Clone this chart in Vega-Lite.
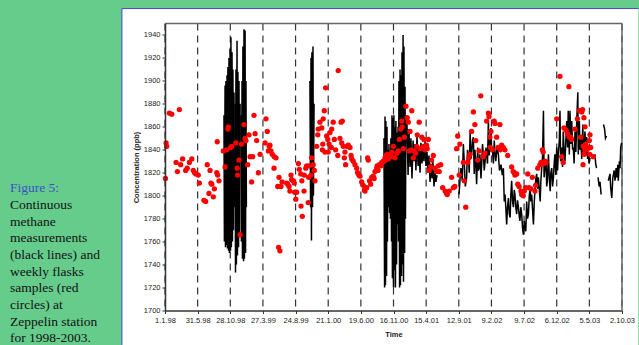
{
  "$schema": "https://vega.github.io/schema/vega-lite/v6.json",
  "background": "#66CC8C",
  "padding": {"left": 10, "top": 7.5, "right": 0, "bottom": 0},
  "bounds": "flush",
  "spacing": 45,
  "config": {
    "font": "Liberation Sans",
    "view": {"stroke": null},
    "axis": {"grid": false, "labelOverlap": false, "domainColor": "#333333", "domainWidth": 1.5, "tickColor": "#333333", "tickSize": 3, "tickWidth": 1, "labelColor": "#222222", "labelFontSize": 7.5, "titleFontSize": 7.5, "titleFontWeight": "bold", "titleColor": "#222222", "labelFont": "Liberation Sans", "titleFont": "Liberation Sans"}
  },
  "datasets": {
    "caption": [
      {"line": 0, "text": "Figure 5:", "kind": "label"},
      {"line": 1, "text": "Continuous", "kind": "body"},
      {"line": 2, "text": "methane", "kind": "body"},
      {"line": 3, "text": "measurements", "kind": "body"},
      {"line": 4, "text": "(black lines) and", "kind": "body"},
      {"line": 5, "text": "weekly flasks", "kind": "body"},
      {"line": 6, "text": "samples (red", "kind": "body"},
      {"line": 7, "text": "circles) at", "kind": "body"},
      {"line": 8, "text": "Zeppelin station", "kind": "body"},
      {"line": 9, "text": "for 1998-2003.", "kind": "body"}
    ],
    "gridDates": [
      {"date": "1998-01-01"}, {"date": "1998-05-31"}, {"date": "1998-10-28"}, {"date": "1999-03-27"}, {"date": "1999-08-24"},
      {"date": "2000-01-21"}, {"date": "2000-06-19"}, {"date": "2000-11-16"}, {"date": "2001-04-15"}, {"date": "2001-09-12"},
      {"date": "2002-02-09"}, {"date": "2002-07-09"}, {"date": "2002-12-06"}, {"date": "2003-05-05"}, {"date": "2003-10-02"}
    ],
    "continuous": [
      {"date": "1998-09-29", "ch4": 1870, "seg": "A"}, {"date": "1998-10-01", "ch4": 1760, "seg": "A"}, {"date": "1998-10-04", "ch4": 1896, "seg": "A"}, {"date": "1998-10-06", "ch4": 1755, "seg": "A"},
      {"date": "1998-10-08", "ch4": 1900, "seg": "A"}, {"date": "1998-10-11", "ch4": 1757, "seg": "A"}, {"date": "1998-10-13", "ch4": 1905, "seg": "A"}, {"date": "1998-10-15", "ch4": 1754, "seg": "A"},
      {"date": "1998-10-17", "ch4": 1912, "seg": "A"}, {"date": "1998-10-20", "ch4": 1752, "seg": "A"}, {"date": "1998-10-22", "ch4": 1920, "seg": "A"}, {"date": "1998-10-24", "ch4": 1750, "seg": "A"},
      {"date": "1998-10-27", "ch4": 1928, "seg": "A"}, {"date": "1998-10-29", "ch4": 1752, "seg": "A"}, {"date": "1998-10-31", "ch4": 1938, "seg": "A"}, {"date": "1998-11-02", "ch4": 1755, "seg": "A"},
      {"date": "1998-11-05", "ch4": 1925, "seg": "A"}, {"date": "1998-11-07", "ch4": 1760, "seg": "A"}, {"date": "1998-11-09", "ch4": 1910, "seg": "A"}, {"date": "1998-11-12", "ch4": 1770, "seg": "A"},
      {"date": "1998-11-14", "ch4": 1890, "seg": "A"}, {"date": "1998-11-16", "ch4": 1790, "seg": "A"},
      {"date": "1998-11-19", "ch4": 1880, "seg": "A2"}, {"date": "1998-11-21", "ch4": 1733, "seg": "A2"}, {"date": "1998-11-23", "ch4": 1910, "seg": "A2"}, {"date": "1998-11-25", "ch4": 1740, "seg": "A2"},
      {"date": "1998-11-28", "ch4": 1935, "seg": "A2"}, {"date": "1998-11-30", "ch4": 1748, "seg": "A2"}, {"date": "1998-12-02", "ch4": 1908, "seg": "A2"}, {"date": "1998-12-05", "ch4": 1755, "seg": "A2"},
      {"date": "1998-12-07", "ch4": 1900, "seg": "A2"}, {"date": "1998-12-09", "ch4": 1765, "seg": "A2"}, {"date": "1998-12-12", "ch4": 1880, "seg": "A2"},
      {"date": "1998-12-16", "ch4": 1870, "seg": "A3"}, {"date": "1998-12-18", "ch4": 1760, "seg": "A3"}, {"date": "1998-12-21", "ch4": 1900, "seg": "A3"}, {"date": "1998-12-23", "ch4": 1745, "seg": "A3"},
      {"date": "1998-12-25", "ch4": 1930, "seg": "A3"}, {"date": "1998-12-28", "ch4": 1743, "seg": "A3"}, {"date": "1998-12-30", "ch4": 1945, "seg": "A3"}, {"date": "1999-01-01", "ch4": 1745, "seg": "A3"},
      {"date": "1999-01-04", "ch4": 1944, "seg": "A3"}, {"date": "1999-01-06", "ch4": 1750, "seg": "A3"}, {"date": "1999-01-08", "ch4": 1900, "seg": "A3"}, {"date": "1999-01-10", "ch4": 1790, "seg": "A3"},
      {"date": "1999-10-29", "ch4": 1900, "seg": "B"}, {"date": "1999-11-01", "ch4": 1790, "seg": "B"}, {"date": "1999-11-03", "ch4": 1920, "seg": "B"}, {"date": "1999-11-05", "ch4": 1761, "seg": "B"},
      {"date": "1999-11-07", "ch4": 1925, "seg": "B"}, {"date": "1999-11-10", "ch4": 1790, "seg": "B"}, {"date": "1999-11-12", "ch4": 1930, "seg": "B"}, {"date": "1999-11-14", "ch4": 1800, "seg": "B"},
      {"date": "1999-11-17", "ch4": 1880, "seg": "B"},
      {"date": "2000-10-03", "ch4": 1850, "seg": "C1"}, {"date": "2000-10-06", "ch4": 1720, "seg": "C1"}, {"date": "2000-10-08", "ch4": 1869, "seg": "C1"}, {"date": "2000-10-10", "ch4": 1722, "seg": "C1"},
      {"date": "2000-10-12", "ch4": 1865, "seg": "C1"}, {"date": "2000-10-15", "ch4": 1730, "seg": "C1"}, {"date": "2000-10-17", "ch4": 1860, "seg": "C1"}, {"date": "2000-10-19", "ch4": 1760, "seg": "C1"},
      {"date": "2000-10-22", "ch4": 1840, "seg": "C1"}, {"date": "2000-10-24", "ch4": 1790, "seg": "C1"}, {"date": "2000-10-26", "ch4": 1845, "seg": "C1"}, {"date": "2000-10-29", "ch4": 1785, "seg": "C1"},
      {"date": "2000-10-31", "ch4": 1840, "seg": "C1"}, {"date": "2000-11-02", "ch4": 1780, "seg": "C1"}, {"date": "2000-11-04", "ch4": 1850, "seg": "C1"}, {"date": "2000-11-07", "ch4": 1760, "seg": "C1"},
      {"date": "2000-11-09", "ch4": 1870, "seg": "C1"}, {"date": "2000-11-11", "ch4": 1728, "seg": "C1"}, {"date": "2000-11-14", "ch4": 1868, "seg": "C1"}, {"date": "2000-11-16", "ch4": 1720, "seg": "C1"},
      {"date": "2000-11-18", "ch4": 1870, "seg": "C1"}, {"date": "2000-11-21", "ch4": 1735, "seg": "C1"}, {"date": "2000-11-23", "ch4": 1860, "seg": "C1"}, {"date": "2000-11-25", "ch4": 1720, "seg": "C1"},
      {"date": "2000-11-27", "ch4": 1865, "seg": "C1"}, {"date": "2000-11-30", "ch4": 1740, "seg": "C1"}, {"date": "2000-12-02", "ch4": 1855, "seg": "C1"}, {"date": "2000-12-04", "ch4": 1775, "seg": "C1"},
      {"date": "2000-12-07", "ch4": 1860, "seg": "C1"}, {"date": "2000-12-09", "ch4": 1760, "seg": "C1"}, {"date": "2000-12-11", "ch4": 1900, "seg": "C1"}, {"date": "2000-12-14", "ch4": 1720, "seg": "C1"},
      {"date": "2000-12-16", "ch4": 1910, "seg": "C1"}, {"date": "2000-12-18", "ch4": 1722, "seg": "C1"}, {"date": "2000-12-20", "ch4": 1905, "seg": "C1"}, {"date": "2000-12-23", "ch4": 1730, "seg": "C1"},
      {"date": "2000-12-25", "ch4": 1925, "seg": "C1"}, {"date": "2000-12-27", "ch4": 1740, "seg": "C1"}, {"date": "2000-12-30", "ch4": 1940, "seg": "C1"}, {"date": "2001-01-01", "ch4": 1725, "seg": "C1"},
      {"date": "2001-01-03", "ch4": 1930, "seg": "C1"}, {"date": "2001-01-06", "ch4": 1750, "seg": "C1"}, {"date": "2001-01-08", "ch4": 1895, "seg": "C1"}, {"date": "2001-01-10", "ch4": 1780, "seg": "C1"},
      {"date": "2001-01-12", "ch4": 1870, "seg": "C1"}, {"date": "2001-01-17", "ch4": 1862, "seg": "C1"}, {"date": "2001-01-22", "ch4": 1818, "seg": "C1"}, {"date": "2001-01-26", "ch4": 1858, "seg": "C1"},
      {"date": "2001-01-31", "ch4": 1825, "seg": "C1"}, {"date": "2001-02-04", "ch4": 1850, "seg": "C1"}, {"date": "2001-02-09", "ch4": 1815, "seg": "C1"}, {"date": "2001-02-14", "ch4": 1848, "seg": "C1"},
      {"date": "2001-02-18", "ch4": 1830, "seg": "C1"}, {"date": "2001-02-23", "ch4": 1845, "seg": "C1"}, {"date": "2001-02-27", "ch4": 1822, "seg": "C1"}, {"date": "2001-03-04", "ch4": 1852, "seg": "C1"},
      {"date": "2001-03-09", "ch4": 1826, "seg": "C1"}, {"date": "2001-03-13", "ch4": 1840, "seg": "C1"}, {"date": "2001-03-18", "ch4": 1820, "seg": "C1"}, {"date": "2001-03-22", "ch4": 1846, "seg": "C1"},
      {"date": "2001-03-27", "ch4": 1828, "seg": "C1"}, {"date": "2001-04-01", "ch4": 1842, "seg": "C1"}, {"date": "2001-04-05", "ch4": 1830, "seg": "C1"}, {"date": "2001-04-10", "ch4": 1848, "seg": "C1"},
      {"date": "2001-04-14", "ch4": 1826, "seg": "C1"}, {"date": "2001-04-19", "ch4": 1838, "seg": "C1"}, {"date": "2001-04-23", "ch4": 1820, "seg": "C1"}, {"date": "2001-04-28", "ch4": 1835, "seg": "C1"},
      {"date": "2001-05-03", "ch4": 1812, "seg": "C1"}, {"date": "2001-05-07", "ch4": 1828, "seg": "C1"}, {"date": "2001-05-12", "ch4": 1815, "seg": "C1"}, {"date": "2001-05-16", "ch4": 1830, "seg": "C1"},
      {"date": "2001-05-21", "ch4": 1808, "seg": "C1"}, {"date": "2001-05-26", "ch4": 1820, "seg": "C1"}, {"date": "2001-05-30", "ch4": 1812, "seg": "C1"}, {"date": "2001-06-04", "ch4": 1818, "seg": "C1"},
      {"date": "2001-09-13", "ch4": 1801, "seg": "C2"}, {"date": "2001-09-18", "ch4": 1815, "seg": "C2"}, {"date": "2001-09-22", "ch4": 1824, "seg": "C2"}, {"date": "2001-09-28", "ch4": 1813, "seg": "C2"},
      {"date": "2001-10-03", "ch4": 1845, "seg": "C2"}, {"date": "2001-10-07", "ch4": 1830, "seg": "C2"}, {"date": "2001-10-12", "ch4": 1808, "seg": "C2"}, {"date": "2001-10-18", "ch4": 1816, "seg": "C2"},
      {"date": "2001-10-22", "ch4": 1840, "seg": "C2"}, {"date": "2001-10-26", "ch4": 1836, "seg": "C2"}, {"date": "2001-10-30", "ch4": 1820, "seg": "C2"}, {"date": "2001-11-03", "ch4": 1856, "seg": "C2"},
      {"date": "2001-11-07", "ch4": 1832, "seg": "C2"}, {"date": "2001-11-10", "ch4": 1836, "seg": "C2"}, {"date": "2001-11-14", "ch4": 1848, "seg": "C2"}, {"date": "2001-11-18", "ch4": 1851, "seg": "C2"},
      {"date": "2001-11-22", "ch4": 1819, "seg": "C2"}, {"date": "2001-11-25", "ch4": 1840, "seg": "C2"}, {"date": "2001-11-29", "ch4": 1830, "seg": "C2"}, {"date": "2001-12-03", "ch4": 1810, "seg": "C2"},
      {"date": "2001-12-08", "ch4": 1842, "seg": "C2"}, {"date": "2001-12-11", "ch4": 1822, "seg": "C2"}, {"date": "2001-12-14", "ch4": 1824, "seg": "C2"}, {"date": "2001-12-18", "ch4": 1836, "seg": "C2"},
      {"date": "2001-12-23", "ch4": 1815, "seg": "C2"}, {"date": "2001-12-26", "ch4": 1827, "seg": "C2"}, {"date": "2001-12-30", "ch4": 1845, "seg": "C2"}, {"date": "2002-01-03", "ch4": 1836, "seg": "C2"},
      {"date": "2002-01-07", "ch4": 1822, "seg": "C2"}, {"date": "2002-01-11", "ch4": 1830, "seg": "C2"}, {"date": "2002-01-15", "ch4": 1842, "seg": "C2"}, {"date": "2002-01-18", "ch4": 1836, "seg": "C2"},
      {"date": "2002-01-22", "ch4": 1828, "seg": "C2"}, {"date": "2002-01-26", "ch4": 1865, "seg": "C2"}, {"date": "2002-01-30", "ch4": 1835, "seg": "C2"}, {"date": "2002-02-04", "ch4": 1850, "seg": "C2"},
      {"date": "2002-02-07", "ch4": 1859, "seg": "C2"}, {"date": "2002-02-10", "ch4": 1838, "seg": "C2"}, {"date": "2002-02-13", "ch4": 1842, "seg": "C2"}, {"date": "2002-02-18", "ch4": 1828, "seg": "C2"},
      {"date": "2002-02-22", "ch4": 1848, "seg": "C2"}, {"date": "2002-02-26", "ch4": 1836, "seg": "C2"}, {"date": "2002-03-01", "ch4": 1830, "seg": "C2"}, {"date": "2002-03-07", "ch4": 1842, "seg": "C2"},
      {"date": "2002-03-13", "ch4": 1836, "seg": "C2"}, {"date": "2002-03-18", "ch4": 1822, "seg": "C2"}, {"date": "2002-03-25", "ch4": 1827, "seg": "C2"}, {"date": "2002-03-31", "ch4": 1818, "seg": "C2"},
      {"date": "2002-04-05", "ch4": 1824, "seg": "C2"}, {"date": "2002-04-09", "ch4": 1795, "seg": "C2"}, {"date": "2002-04-13", "ch4": 1801, "seg": "C2"}, {"date": "2002-04-16", "ch4": 1790, "seg": "C2"},
      {"date": "2002-04-20", "ch4": 1775, "seg": "C2"}, {"date": "2002-04-24", "ch4": 1790, "seg": "C2"}, {"date": "2002-04-28", "ch4": 1798, "seg": "C2"}, {"date": "2002-05-02", "ch4": 1784, "seg": "C2"},
      {"date": "2002-05-06", "ch4": 1781, "seg": "C2"}, {"date": "2002-05-09", "ch4": 1800, "seg": "C2"}, {"date": "2002-05-13", "ch4": 1813, "seg": "C2"}, {"date": "2002-05-17", "ch4": 1795, "seg": "C2"},
      {"date": "2002-05-21", "ch4": 1790, "seg": "C2"}, {"date": "2002-05-25", "ch4": 1805, "seg": "C2"}, {"date": "2002-05-28", "ch4": 1801, "seg": "C2"}, {"date": "2002-06-01", "ch4": 1790, "seg": "C2"},
      {"date": "2002-06-05", "ch4": 1784, "seg": "C2"}, {"date": "2002-06-09", "ch4": 1796, "seg": "C2"}, {"date": "2002-06-13", "ch4": 1790, "seg": "C2"}, {"date": "2002-06-17", "ch4": 1782, "seg": "C2"},
      {"date": "2002-06-20", "ch4": 1778, "seg": "C2"}, {"date": "2002-06-24", "ch4": 1790, "seg": "C2"}, {"date": "2002-06-28", "ch4": 1784, "seg": "C2"}, {"date": "2002-07-02", "ch4": 1772, "seg": "C2"},
      {"date": "2002-07-06", "ch4": 1766, "seg": "C2"}, {"date": "2002-07-10", "ch4": 1778, "seg": "C2"}, {"date": "2002-07-14", "ch4": 1772, "seg": "C2"}, {"date": "2002-07-17", "ch4": 1769, "seg": "C2"},
      {"date": "2002-07-21", "ch4": 1795, "seg": "C2"}, {"date": "2002-07-25", "ch4": 1780, "seg": "C2"}, {"date": "2002-07-29", "ch4": 1784, "seg": "C2"}, {"date": "2002-08-02", "ch4": 1800, "seg": "C2"},
      {"date": "2002-08-06", "ch4": 1807, "seg": "C2"}, {"date": "2002-08-09", "ch4": 1795, "seg": "C2"}, {"date": "2002-08-13", "ch4": 1801, "seg": "C2"}, {"date": "2002-08-17", "ch4": 1788, "seg": "C2"},
      {"date": "2002-08-21", "ch4": 1775, "seg": "C2"}, {"date": "2002-08-25", "ch4": 1795, "seg": "C2"}, {"date": "2002-08-29", "ch4": 1807, "seg": "C2"}, {"date": "2002-09-01", "ch4": 1815, "seg": "C2"},
      {"date": "2002-09-05", "ch4": 1819, "seg": "C2"}, {"date": "2002-09-09", "ch4": 1806, "seg": "C2"}, {"date": "2002-09-13", "ch4": 1816, "seg": "C2"}, {"date": "2002-09-17", "ch4": 1805, "seg": "C2"},
      {"date": "2002-09-21", "ch4": 1795, "seg": "C2"}, {"date": "2002-09-24", "ch4": 1812, "seg": "C2"}, {"date": "2002-09-28", "ch4": 1824, "seg": "C2"}, {"date": "2002-10-02", "ch4": 1835, "seg": "C2"},
      {"date": "2002-10-06", "ch4": 1874, "seg": "C2"}, {"date": "2002-10-09", "ch4": 1816, "seg": "C2"}, {"date": "2002-10-14", "ch4": 1826, "seg": "C2"}, {"date": "2002-10-18", "ch4": 1830, "seg": "C2"},
      {"date": "2002-10-21", "ch4": 1808, "seg": "C2"}, {"date": "2002-10-24", "ch4": 1813, "seg": "C2"}, {"date": "2002-10-29", "ch4": 1836, "seg": "C2"}, {"date": "2002-11-02", "ch4": 1815, "seg": "C2"},
      {"date": "2002-11-06", "ch4": 1804, "seg": "C2"}, {"date": "2002-11-09", "ch4": 1820, "seg": "C2"}, {"date": "2002-11-13", "ch4": 1824, "seg": "C2"}, {"date": "2002-11-17", "ch4": 1808, "seg": "C2"},
      {"date": "2002-11-21", "ch4": 1816, "seg": "C2"}, {"date": "2002-11-25", "ch4": 1830, "seg": "C2"}, {"date": "2002-11-28", "ch4": 1836, "seg": "C2"}, {"date": "2002-12-02", "ch4": 1818, "seg": "C2"},
      {"date": "2002-12-06", "ch4": 1842, "seg": "C2"}, {"date": "2002-12-10", "ch4": 1822, "seg": "C2"}, {"date": "2002-12-13", "ch4": 1836, "seg": "C2"}, {"date": "2002-12-18", "ch4": 1848, "seg": "C2"},
      {"date": "2002-12-21", "ch4": 1874, "seg": "C2"}, {"date": "2002-12-24", "ch4": 1830, "seg": "C2"}, {"date": "2002-12-29", "ch4": 1842, "seg": "C2"}, {"date": "2003-01-02", "ch4": 1825, "seg": "C2"},
      {"date": "2003-01-05", "ch4": 1856, "seg": "C2"}, {"date": "2003-01-10", "ch4": 1835, "seg": "C2"}, {"date": "2003-01-13", "ch4": 1830, "seg": "C2"}, {"date": "2003-01-17", "ch4": 1848, "seg": "C2"},
      {"date": "2003-01-21", "ch4": 1865, "seg": "C2"}, {"date": "2003-01-25", "ch4": 1842, "seg": "C2"}, {"date": "2003-01-28", "ch4": 1874, "seg": "C2"}, {"date": "2003-02-02", "ch4": 1836, "seg": "C2"},
      {"date": "2003-02-05", "ch4": 1874, "seg": "C2"}, {"date": "2003-02-09", "ch4": 1845, "seg": "C2"}, {"date": "2003-02-13", "ch4": 1865, "seg": "C2"}, {"date": "2003-02-17", "ch4": 1840, "seg": "C2"},
      {"date": "2003-02-20", "ch4": 1842, "seg": "C2"}, {"date": "2003-02-24", "ch4": 1828, "seg": "C2"}, {"date": "2003-02-28", "ch4": 1856, "seg": "C2"}, {"date": "2003-03-04", "ch4": 1838, "seg": "C2"},
      {"date": "2003-03-08", "ch4": 1865, "seg": "C2"}, {"date": "2003-03-13", "ch4": 1890, "seg": "C2"}, {"date": "2003-03-15", "ch4": 1836, "seg": "C2"}, {"date": "2003-03-20", "ch4": 1865, "seg": "C2"},
      {"date": "2003-03-23", "ch4": 1840, "seg": "C2"}, {"date": "2003-03-26", "ch4": 1851, "seg": "C2"}, {"date": "2003-03-31", "ch4": 1832, "seg": "C2"}, {"date": "2003-04-05", "ch4": 1862, "seg": "C2"},
      {"date": "2003-04-07", "ch4": 1838, "seg": "C2"}, {"date": "2003-04-10", "ch4": 1842, "seg": "C2"}, {"date": "2003-04-15", "ch4": 1856, "seg": "C2"}, {"date": "2003-04-19", "ch4": 1835, "seg": "C2"},
      {"date": "2003-04-23", "ch4": 1851, "seg": "C2"}, {"date": "2003-04-27", "ch4": 1832, "seg": "C2"}, {"date": "2003-04-30", "ch4": 1836, "seg": "C2"}, {"date": "2003-05-04", "ch4": 1828, "seg": "C2"},
      {"date": "2003-05-08", "ch4": 1833, "seg": "C2"},
      {"date": "2003-05-31", "ch4": 1836, "seg": "D1"}, {"date": "2003-06-03", "ch4": 1828, "seg": "D1"}, {"date": "2003-06-07", "ch4": 1824, "seg": "D1"},
      {"date": "2003-06-14", "ch4": 1816, "seg": "D2"}, {"date": "2003-06-19", "ch4": 1808, "seg": "D2"}, {"date": "2003-06-23", "ch4": 1812, "seg": "D2"}, {"date": "2003-06-28", "ch4": 1801, "seg": "D2"},
      {"date": "2003-07-09", "ch4": 1862, "seg": "D3"}, {"date": "2003-07-14", "ch4": 1858, "seg": "D3"}, {"date": "2003-07-18", "ch4": 1850, "seg": "D3"}, {"date": "2003-07-23", "ch4": 1852, "seg": "D3"},
      {"date": "2003-07-31", "ch4": 1813, "seg": "D4"}, {"date": "2003-08-08", "ch4": 1819, "seg": "D4"}, {"date": "2003-08-11", "ch4": 1807, "seg": "D4"}, {"date": "2003-08-16", "ch4": 1798, "seg": "D4"},
      {"date": "2003-08-21", "ch4": 1816, "seg": "D4"}, {"date": "2003-08-27", "ch4": 1822, "seg": "D4"}, {"date": "2003-08-31", "ch4": 1813, "seg": "D4"}, {"date": "2003-09-05", "ch4": 1824, "seg": "D4"},
      {"date": "2003-09-08", "ch4": 1816, "seg": "D4"}, {"date": "2003-09-13", "ch4": 1827, "seg": "D4"}, {"date": "2003-09-15", "ch4": 1813, "seg": "D4"}, {"date": "2003-09-20", "ch4": 1830, "seg": "D4"},
      {"date": "2003-09-23", "ch4": 1824, "seg": "D4"}, {"date": "2003-09-26", "ch4": 1842, "seg": "D4"}, {"date": "2003-09-30", "ch4": 1846, "seg": "D4"}
    ],
    "flasks": [
      {"date": "1998-01-03", "ch4": 1815}, {"date": "1998-01-06", "ch4": 1846}, {"date": "1998-01-09", "ch4": 1843}, {"date": "1998-01-21", "ch4": 1872}, {"date": "1998-02-01", "ch4": 1871},
      {"date": "1998-02-21", "ch4": 1829}, {"date": "1998-02-27", "ch4": 1821}, {"date": "1998-03-08", "ch4": 1875}, {"date": "1998-03-14", "ch4": 1827}, {"date": "1998-03-23", "ch4": 1832},
      {"date": "1998-04-06", "ch4": 1822}, {"date": "1998-04-13", "ch4": 1824}, {"date": "1998-04-23", "ch4": 1829}, {"date": "1998-05-04", "ch4": 1832}, {"date": "1998-05-11", "ch4": 1822},
      {"date": "1998-05-17", "ch4": 1820}, {"date": "1998-05-23", "ch4": 1819}, {"date": "1998-06-03", "ch4": 1818}, {"date": "1998-06-08", "ch4": 1811}, {"date": "1998-06-29", "ch4": 1796},
      {"date": "1998-07-07", "ch4": 1795}, {"date": "1998-07-14", "ch4": 1827}, {"date": "1998-07-22", "ch4": 1802}, {"date": "1998-07-27", "ch4": 1822}, {"date": "1998-07-31", "ch4": 1811},
      {"date": "1998-08-04", "ch4": 1810}, {"date": "1998-08-11", "ch4": 1799}, {"date": "1998-08-16", "ch4": 1806}, {"date": "1998-08-27", "ch4": 1820}, {"date": "1998-08-29", "ch4": 1847},
      {"date": "1998-08-31", "ch4": 1818}, {"date": "1998-09-06", "ch4": 1813}, {"date": "1998-09-26", "ch4": 1839}, {"date": "1998-10-04", "ch4": 1825}, {"date": "1998-10-12", "ch4": 1840},
      {"date": "1998-10-17", "ch4": 1858}, {"date": "1998-10-19", "ch4": 1860}, {"date": "1998-10-30", "ch4": 1842}, {"date": "1998-11-03", "ch4": 1843}, {"date": "1998-11-23", "ch4": 1846},
      {"date": "1998-11-29", "ch4": 1824}, {"date": "1998-12-01", "ch4": 1818}, {"date": "1998-12-07", "ch4": 1831}, {"date": "1998-12-12", "ch4": 1766}, {"date": "1998-12-19", "ch4": 1845},
      {"date": "1998-12-30", "ch4": 1862}, {"date": "1999-01-04", "ch4": 1850}, {"date": "1999-01-08", "ch4": 1848}, {"date": "1999-01-16", "ch4": 1827}, {"date": "1999-01-22", "ch4": 1853},
      {"date": "1999-01-27", "ch4": 1834}, {"date": "1999-02-03", "ch4": 1812}, {"date": "1999-02-08", "ch4": 1834}, {"date": "1999-02-14", "ch4": 1870}, {"date": "1999-02-19", "ch4": 1854},
      {"date": "1999-02-26", "ch4": 1848}, {"date": "1999-03-06", "ch4": 1820}, {"date": "1999-03-14", "ch4": 1836}, {"date": "1999-04-06", "ch4": 1846}, {"date": "1999-04-10", "ch4": 1867},
      {"date": "1999-04-16", "ch4": 1856}, {"date": "1999-04-21", "ch4": 1839}, {"date": "1999-04-25", "ch4": 1843}, {"date": "1999-04-28", "ch4": 1844}, {"date": "1999-05-03", "ch4": 1839},
      {"date": "1999-05-09", "ch4": 1836}, {"date": "1999-05-17", "ch4": 1824}, {"date": "1999-05-18", "ch4": 1834}, {"date": "1999-05-26", "ch4": 1833}, {"date": "1999-06-03", "ch4": 1808},
      {"date": "1999-06-07", "ch4": 1755}, {"date": "1999-06-09", "ch4": 1816}, {"date": "1999-06-13", "ch4": 1752}, {"date": "1999-06-18", "ch4": 1808}, {"date": "1999-06-23", "ch4": 1812},
      {"date": "1999-07-14", "ch4": 1811}, {"date": "1999-07-19", "ch4": 1810}, {"date": "1999-07-25", "ch4": 1808}, {"date": "1999-07-29", "ch4": 1804}, {"date": "1999-08-03", "ch4": 1818},
      {"date": "1999-08-06", "ch4": 1814}, {"date": "1999-08-14", "ch4": 1813}, {"date": "1999-08-18", "ch4": 1811}, {"date": "1999-08-20", "ch4": 1803}, {"date": "1999-08-25", "ch4": 1797},
      {"date": "1999-08-29", "ch4": 1803}, {"date": "1999-09-06", "ch4": 1828}, {"date": "1999-09-10", "ch4": 1823}, {"date": "1999-09-17", "ch4": 1819}, {"date": "1999-09-18", "ch4": 1791},
      {"date": "1999-09-22", "ch4": 1813}, {"date": "1999-09-24", "ch4": 1782}, {"date": "1999-10-02", "ch4": 1804}, {"date": "1999-10-03", "ch4": 1818}, {"date": "1999-10-10", "ch4": 1824},
      {"date": "1999-10-14", "ch4": 1826}, {"date": "1999-10-21", "ch4": 1794}, {"date": "1999-10-23", "ch4": 1816}, {"date": "1999-10-26", "ch4": 1826}, {"date": "1999-11-03", "ch4": 1818},
      {"date": "1999-11-06", "ch4": 1833}, {"date": "1999-11-13", "ch4": 1827}, {"date": "1999-11-18", "ch4": 1822}, {"date": "1999-11-21", "ch4": 1813}, {"date": "1999-11-29", "ch4": 1843},
      {"date": "1999-12-04", "ch4": 1853}, {"date": "1999-12-06", "ch4": 1858}, {"date": "1999-12-14", "ch4": 1864}, {"date": "1999-12-22", "ch4": 1859}, {"date": "1999-12-25", "ch4": 1840},
      {"date": "1999-12-27", "ch4": 1845}, {"date": "1999-12-29", "ch4": 1867}, {"date": "2000-01-03", "ch4": 1874}, {"date": "2000-01-06", "ch4": 1838}, {"date": "2000-01-09", "ch4": 1894},
      {"date": "2000-01-14", "ch4": 1852}, {"date": "2000-01-19", "ch4": 1849}, {"date": "2000-01-21", "ch4": 1838}, {"date": "2000-01-25", "ch4": 1845}, {"date": "2000-01-29", "ch4": 1855},
      {"date": "2000-02-04", "ch4": 1842}, {"date": "2000-02-06", "ch4": 1858}, {"date": "2000-02-13", "ch4": 1864}, {"date": "2000-02-18", "ch4": 1849}, {"date": "2000-02-24", "ch4": 1840},
      {"date": "2000-03-05", "ch4": 1835}, {"date": "2000-03-07", "ch4": 1909}, {"date": "2000-03-15", "ch4": 1850}, {"date": "2000-03-20", "ch4": 1864}, {"date": "2000-03-23", "ch4": 1846},
      {"date": "2000-03-26", "ch4": 1865}, {"date": "2000-03-30", "ch4": 1843}, {"date": "2000-04-04", "ch4": 1833}, {"date": "2000-04-07", "ch4": 1838}, {"date": "2000-04-10", "ch4": 1827},
      {"date": "2000-04-15", "ch4": 1843}, {"date": "2000-04-22", "ch4": 1844}, {"date": "2000-04-30", "ch4": 1842}, {"date": "2000-05-05", "ch4": 1835}, {"date": "2000-05-08", "ch4": 1832},
      {"date": "2000-05-15", "ch4": 1830}, {"date": "2000-05-23", "ch4": 1827}, {"date": "2000-05-31", "ch4": 1824}, {"date": "2000-06-04", "ch4": 1820}, {"date": "2000-06-10", "ch4": 1818},
      {"date": "2000-06-15", "ch4": 1817}, {"date": "2000-06-23", "ch4": 1812}, {"date": "2000-06-30", "ch4": 1809}, {"date": "2000-07-05", "ch4": 1805}, {"date": "2000-07-08", "ch4": 1804},
      {"date": "2000-07-16", "ch4": 1807}, {"date": "2000-07-20", "ch4": 1833}, {"date": "2000-07-23", "ch4": 1831}, {"date": "2000-07-29", "ch4": 1813}, {"date": "2000-08-03", "ch4": 1810},
      {"date": "2000-08-08", "ch4": 1816}, {"date": "2000-08-15", "ch4": 1817}, {"date": "2000-08-19", "ch4": 1815}, {"date": "2000-08-23", "ch4": 1821}, {"date": "2000-08-31", "ch4": 1824},
      {"date": "2000-09-02", "ch4": 1826}, {"date": "2000-09-06", "ch4": 1822}, {"date": "2000-09-12", "ch4": 1827}, {"date": "2000-09-19", "ch4": 1826}, {"date": "2000-09-23", "ch4": 1829},
      {"date": "2000-09-30", "ch4": 1830}, {"date": "2000-10-04", "ch4": 1830}, {"date": "2000-10-08", "ch4": 1833}, {"date": "2000-10-12", "ch4": 1835}, {"date": "2000-10-15", "ch4": 1832},
      {"date": "2000-10-18", "ch4": 1836}, {"date": "2000-10-23", "ch4": 1832}, {"date": "2000-10-27", "ch4": 1836}, {"date": "2000-10-31", "ch4": 1835}, {"date": "2000-11-06", "ch4": 1834},
      {"date": "2000-11-08", "ch4": 1838}, {"date": "2000-11-15", "ch4": 1843}, {"date": "2000-11-23", "ch4": 1833}, {"date": "2000-12-01", "ch4": 1837}, {"date": "2000-12-08", "ch4": 1839},
      {"date": "2000-12-13", "ch4": 1849}, {"date": "2000-12-19", "ch4": 1858}, {"date": "2000-12-24", "ch4": 1865}, {"date": "2000-12-26", "ch4": 1860}, {"date": "2000-12-31", "ch4": 1841},
      {"date": "2001-01-05", "ch4": 1851}, {"date": "2001-01-12", "ch4": 1878}, {"date": "2001-01-18", "ch4": 1868}, {"date": "2001-01-23", "ch4": 1864}, {"date": "2001-01-28", "ch4": 1839},
      {"date": "2001-01-31", "ch4": 1856}, {"date": "2001-02-06", "ch4": 1840}, {"date": "2001-02-08", "ch4": 1874}, {"date": "2001-02-15", "ch4": 1833}, {"date": "2001-02-19", "ch4": 1839},
      {"date": "2001-02-26", "ch4": 1837}, {"date": "2001-03-03", "ch4": 1843}, {"date": "2001-03-05", "ch4": 1853}, {"date": "2001-03-14", "ch4": 1864}, {"date": "2001-03-18", "ch4": 1841},
      {"date": "2001-03-26", "ch4": 1851}, {"date": "2001-04-02", "ch4": 1843}, {"date": "2001-04-05", "ch4": 1849}, {"date": "2001-04-10", "ch4": 1840}, {"date": "2001-04-17", "ch4": 1844},
      {"date": "2001-04-20", "ch4": 1841}, {"date": "2001-04-25", "ch4": 1849}, {"date": "2001-04-29", "ch4": 1822}, {"date": "2001-05-06", "ch4": 1825}, {"date": "2001-05-10", "ch4": 1831},
      {"date": "2001-05-18", "ch4": 1835}, {"date": "2001-05-26", "ch4": 1824}, {"date": "2001-06-02", "ch4": 1821}, {"date": "2001-06-10", "ch4": 1826}, {"date": "2001-06-14", "ch4": 1821},
      {"date": "2001-06-21", "ch4": 1827}, {"date": "2001-06-30", "ch4": 1807}, {"date": "2001-07-11", "ch4": 1804}, {"date": "2001-07-18", "ch4": 1802}, {"date": "2001-07-21", "ch4": 1801},
      {"date": "2001-07-30", "ch4": 1804}, {"date": "2001-08-10", "ch4": 1816}, {"date": "2001-08-18", "ch4": 1807}, {"date": "2001-08-25", "ch4": 1808}, {"date": "2001-09-02", "ch4": 1841},
      {"date": "2001-09-07", "ch4": 1852}, {"date": "2001-09-14", "ch4": 1818}, {"date": "2001-09-17", "ch4": 1845}, {"date": "2001-10-03", "ch4": 1829}, {"date": "2001-10-07", "ch4": 1813},
      {"date": "2001-10-14", "ch4": 1790}, {"date": "2001-10-23", "ch4": 1829}, {"date": "2001-10-29", "ch4": 1833}, {"date": "2001-11-02", "ch4": 1836}, {"date": "2001-11-10", "ch4": 1856},
      {"date": "2001-11-18", "ch4": 1873}, {"date": "2001-11-25", "ch4": 1862}, {"date": "2001-11-29", "ch4": 1848}, {"date": "2001-12-08", "ch4": 1831}, {"date": "2001-12-14", "ch4": 1839},
      {"date": "2001-12-22", "ch4": 1887}, {"date": "2002-01-03", "ch4": 1834}, {"date": "2002-01-10", "ch4": 1837}, {"date": "2002-01-18", "ch4": 1865}, {"date": "2002-01-26", "ch4": 1872},
      {"date": "2002-01-29", "ch4": 1869}, {"date": "2002-02-02", "ch4": 1851}, {"date": "2002-02-04", "ch4": 1842}, {"date": "2002-02-07", "ch4": 1856}, {"date": "2002-02-13", "ch4": 1840},
      {"date": "2002-02-22", "ch4": 1865}, {"date": "2002-02-25", "ch4": 1863}, {"date": "2002-03-05", "ch4": 1851}, {"date": "2002-03-12", "ch4": 1842}, {"date": "2002-03-20", "ch4": 1862},
      {"date": "2002-03-22", "ch4": 1840}, {"date": "2002-03-28", "ch4": 1844}, {"date": "2002-04-04", "ch4": 1842}, {"date": "2002-04-12", "ch4": 1840}, {"date": "2002-04-25", "ch4": 1835},
      {"date": "2002-05-13", "ch4": 1825}, {"date": "2002-05-20", "ch4": 1821}, {"date": "2002-05-25", "ch4": 1820}, {"date": "2002-05-28", "ch4": 1818}, {"date": "2002-06-05", "ch4": 1819},
      {"date": "2002-06-10", "ch4": 1810}, {"date": "2002-06-16", "ch4": 1808}, {"date": "2002-06-25", "ch4": 1804}, {"date": "2002-06-28", "ch4": 1801}, {"date": "2002-07-01", "ch4": 1802},
      {"date": "2002-07-05", "ch4": 1800}, {"date": "2002-07-10", "ch4": 1804}, {"date": "2002-07-16", "ch4": 1807}, {"date": "2002-07-26", "ch4": 1819}, {"date": "2002-08-01", "ch4": 1807},
      {"date": "2002-08-10", "ch4": 1806}, {"date": "2002-08-16", "ch4": 1816}, {"date": "2002-08-28", "ch4": 1804}, {"date": "2002-08-31", "ch4": 1809}, {"date": "2002-09-10", "ch4": 1824},
      {"date": "2002-09-20", "ch4": 1827}, {"date": "2002-09-25", "ch4": 1829}, {"date": "2002-10-01", "ch4": 1840}, {"date": "2002-10-05", "ch4": 1838}, {"date": "2002-10-09", "ch4": 1828},
      {"date": "2002-10-13", "ch4": 1830}, {"date": "2002-10-18", "ch4": 1829}, {"date": "2002-12-06", "ch4": 1867}, {"date": "2002-12-21", "ch4": 1904}, {"date": "2002-12-29", "ch4": 1834},
      {"date": "2003-01-05", "ch4": 1829}, {"date": "2003-01-08", "ch4": 1859}, {"date": "2003-01-18", "ch4": 1857}, {"date": "2003-01-24", "ch4": 1854}, {"date": "2003-01-31", "ch4": 1895},
      {"date": "2003-02-02", "ch4": 1851}, {"date": "2003-02-08", "ch4": 1851}, {"date": "2003-02-13", "ch4": 1849}, {"date": "2003-02-28", "ch4": 1858}, {"date": "2003-03-11", "ch4": 1867},
      {"date": "2003-03-20", "ch4": 1874}, {"date": "2003-03-26", "ch4": 1851}, {"date": "2003-03-31", "ch4": 1873}, {"date": "2003-04-04", "ch4": 1875}, {"date": "2003-04-06", "ch4": 1827},
      {"date": "2003-04-07", "ch4": 1843}, {"date": "2003-04-10", "ch4": 1868}, {"date": "2003-04-11", "ch4": 1836}, {"date": "2003-04-14", "ch4": 1840}, {"date": "2003-04-15", "ch4": 1860},
      {"date": "2003-04-18", "ch4": 1845}, {"date": "2003-04-23", "ch4": 1840}, {"date": "2003-04-30", "ch4": 1842}, {"date": "2003-05-05", "ch4": 1848}, {"date": "2003-05-07", "ch4": 1836},
      {"date": "2003-05-08", "ch4": 1853}, {"date": "2003-05-11", "ch4": 1842}, {"date": "2003-05-23", "ch4": 1834}
    ]
  },
  "hconcat": [
    {
      "width": 110,
      "height": 287,
      "data": {"name": "caption"},
      "mark": {"type": "text", "align": "left", "baseline": "middle", "font": "Liberation Serif", "fontSize": 13.5},
      "encoding": {
        "x": {"datum": 0, "type": "quantitative", "scale": {"domain": [0, 1], "range": [0, 110]}, "axis": null},
        "y": {"field": "line", "type": "quantitative", "scale": {"domain": [0, 9], "range": [164.7, 314.7]}, "axis": null},
        "text": {"field": "text"},
        "color": {"field": "kind", "type": "nominal", "scale": {"domain": ["label", "body"], "range": ["#3f4fc8", "#111111"]}, "legend": null}
      }
    },
    {
      "width": 457,
      "height": 287,
      "layer": [
        {
          "data": {"values": [{}]},
          "mark": {"type": "rect", "fill": "white"},
          "encoding": {
            "x": {"datum": {"year": 1997, "month": 6, "date": 17, "utc": true}, "type": "temporal", "title": "Time",
              "scale": {"type": "utc", "domain": [{"year": 1998, "month": 1, "date": 1, "utc": true}, {"year": 2003, "month": 10, "date": 2, "utc": true}], "nice": false},
              "axis": {"title": "Time", "zindex": 2, "format": "%-d.%-m.%y", "tickCount": 40, "labelFlush": false, "labelOverlap": false, "labelPadding": 3, "titlePadding": 6,
                "values": [
                  {"year": 1998, "month": 1, "date": 1, "utc": true}, {"year": 1998, "month": 5, "date": 31, "utc": true}, {"year": 1998, "month": 10, "date": 28, "utc": true},
                  {"year": 1999, "month": 3, "date": 27, "utc": true}, {"year": 1999, "month": 8, "date": 24, "utc": true}, {"year": 2000, "month": 1, "date": 21, "utc": true},
                  {"year": 2000, "month": 6, "date": 19, "utc": true}, {"year": 2000, "month": 11, "date": 16, "utc": true}, {"year": 2001, "month": 4, "date": 15, "utc": true},
                  {"year": 2001, "month": 9, "date": 12, "utc": true}, {"year": 2002, "month": 2, "date": 9, "utc": true}, {"year": 2002, "month": 7, "date": 9, "utc": true},
                  {"year": 2002, "month": 12, "date": 6, "utc": true}, {"year": 2003, "month": 5, "date": 5, "utc": true}, {"year": 2003, "month": 10, "date": 2, "utc": true}
                ]}},
            "x2": {"datum": {"year": 2003, "month": 12, "date": 16, "utc": true}},
            "y": {"datum": 1963, "type": "quantitative", "title": "Concentration (ppb)",
              "scale": {"domain": [1700, 1950], "nice": false, "zero": false},
              "axis": {"title": "Concentration (ppb)", "zindex": 2, "format": "d", "tickCount": 40, "labelOverlap": false, "values": [1700, 1720, 1740, 1760, 1780, 1800, 1820, 1840, 1860, 1880, 1900, 1920, 1940], "labelPadding": 2, "titlePadding": 3}},
            "y2": {"datum": 1670}
          }
        },
        {
          "data": {"values": [{}]},
          "mark": {"type": "rule", "color": "#4646d2", "strokeWidth": 1},
          "encoding": {
            "x": {"datum": {"year": 1997, "month": 6, "date": 17, "utc": true}, "type": "temporal", "title": "Time"},
            "y": {"datum": 1963, "type": "quantitative", "title": "Concentration (ppb)"},
            "y2": {"datum": 1670}
          }
        },
        {
          "data": {"values": [{}]},
          "mark": {"type": "rule", "color": "#4646d2", "strokeWidth": 1},
          "encoding": {
            "x": {"datum": {"year": 1997, "month": 6, "date": 17, "utc": true}, "type": "temporal", "title": "Time"},
            "x2": {"datum": {"year": 2003, "month": 12, "date": 16, "utc": true}},
            "y": {"datum": 1963, "type": "quantitative", "title": "Concentration (ppb)"}
          }
        },
        {
          "data": {"name": "gridDates"},
          "mark": {"type": "rule", "color": "#333333", "strokeWidth": 1.2, "strokeDash": [7, 5]},
          "encoding": {
            "x": {"field": "date", "type": "temporal", "title": "Time"}
          }
        },
        {
          "data": {"values": [{}]},
          "mark": {"type": "rule", "color": "#666666", "strokeWidth": 1.5},
          "encoding": {
            "x": {"datum": {"year": 1998, "month": 1, "date": 1, "utc": true}, "type": "temporal", "title": "Time"},
            "x2": {"datum": {"year": 2003, "month": 10, "date": 2, "utc": true}},
            "y": {"datum": 1950, "type": "quantitative", "title": "Concentration (ppb)"}
          }
        },
        {
          "data": {"values": [{}]},
          "mark": {"type": "rule", "color": "#666666", "strokeWidth": 1.5},
          "encoding": {
            "x": {"datum": {"year": 2003, "month": 10, "date": 2, "utc": true}, "type": "temporal", "title": "Time"},
            "y": {"datum": 1700, "type": "quantitative", "title": "Concentration (ppb)"},
            "y2": {"datum": 1950}
          }
        },
        {
          "data": {"name": "continuous"},
          "mark": {"type": "line", "color": "#000000", "strokeWidth": 1.5},
          "encoding": {
            "x": {"field": "date", "type": "temporal", "title": "Time"},
            "y": {"field": "ch4", "type": "quantitative", "title": "Concentration (ppb)"},
            "detail": {"field": "seg", "type": "nominal"}
          }
        },
        {
          "data": {"name": "flasks"},
          "mark": {"type": "circle", "color": "#ff0000", "size": 28, "opacity": 1},
          "encoding": {
            "x": {"field": "date", "type": "temporal", "title": "Time"},
            "y": {"field": "ch4", "type": "quantitative", "title": "Concentration (ppb)"}
          }
        }
      ]
    }
  ]
}
